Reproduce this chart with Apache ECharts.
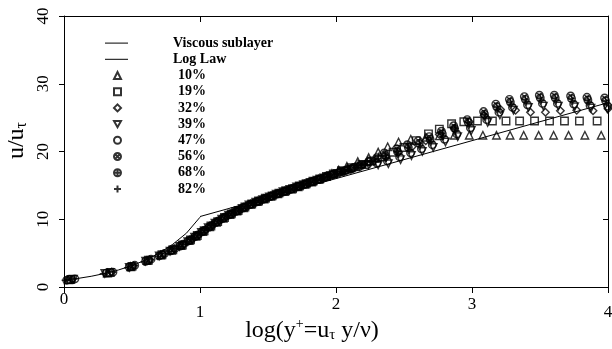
<!DOCTYPE html>
<html>
<head>
<meta charset="utf-8">
<script src="https://cdn.jsdelivr.net/npm/echarts@6/dist/echarts.min.js"></script>
<style>
  html, body { margin: 0; padding: 0; background: #fff; }
  #chart { width: 612px; height: 349px; }
</style>
</head>
<body>
<div id="chart"></div>
<script>
// Mean velocity profiles in wall units: u/u_tau against log10(y+).

// Reference laws
const viscousSublayer = [[0, 1.0], [0.1, 1.26], [0.2, 1.58], [0.3, 2.0], [0.4, 2.51], [0.5, 3.16],
  [0.6, 3.98], [0.7, 5.01], [0.8, 6.31], [0.9, 7.94], [1.0, 10.3]];
const logLaw = [[1.0, 10.4], [4.0, 27.2]];

// Measured profiles, [log10(y+), u/u_tau]
const p10 = [[0.03,1.05],[0.32,2.05],[0.49,3.0],[0.61,3.9],[0.71,4.7],[0.79,5.4],[0.86,6.1],[0.92,6.85],[0.97,7.5],
  [1.02,8.2],[1.07,8.9],[1.12,9.55],[1.17,10.15],[1.22,10.7],[1.27,11.2],[1.32,11.7],[1.37,12.2],[1.42,12.6],
  [1.47,13.0],[1.52,13.4],[1.57,13.75],[1.62,14.1],[1.67,14.45],[1.72,14.8],[1.77,15.15],[1.82,15.5],[1.87,15.9],
  [1.92,16.3],[1.97,16.75],[2.02,17.25],[2.08,17.8],[2.16,18.5],[2.24,19.1],[2.31,19.9],[2.38,20.7],[2.46,21.4],
  [2.55,21.8],[2.66,22.1],[2.76,22.3],[2.87,22.4],[2.98,22.4],[3.08,22.4],[3.18,22.4],[3.28,22.4],[3.38,22.4],
  [3.49,22.4],[3.60,22.4],[3.71,22.4],[3.83,22.4],[3.95,22.4]];
const p19 = [[0.05,1.1],[0.34,2.15],[0.5,3.05],[0.62,3.95],[0.72,4.75],[0.8,5.5],[0.87,6.2],[0.93,6.95],[0.98,7.6],
  [1.03,8.3],[1.08,9.0],[1.13,9.65],[1.18,10.25],[1.23,10.8],[1.28,11.3],[1.33,11.8],[1.38,12.25],[1.43,12.7],
  [1.48,13.1],[1.53,13.45],[1.58,13.85],[1.63,14.2],[1.68,14.5],[1.73,14.9],[1.78,15.25],[1.83,15.6],[1.88,15.95],
  [1.93,16.3],[1.98,16.7],[2.04,17.15],[2.11,17.6],[2.19,18.1],[2.26,18.6],[2.34,19.2],[2.42,19.9],[2.50,20.6],
  [2.59,21.6],[2.68,22.6],[2.76,23.3],[2.85,24.1],[2.94,24.4],[3.04,24.5],[3.15,24.5],[3.25,24.5],[3.35,24.5],
  [3.46,24.5],[3.57,24.5],[3.68,24.5],[3.79,24.5],[3.92,24.5]];
const p32 = [[0.06,1.1],[0.35,2.2],[0.51,3.1],[0.63,4.0],[0.73,4.85],[0.81,5.6],[0.88,6.3],[0.94,7.1],[0.99,7.75],
  [1.04,8.45],[1.09,9.15],[1.14,9.8],[1.19,10.4],[1.24,10.9],[1.29,11.4],[1.34,11.9],[1.39,12.35],[1.44,12.75],
  [1.49,13.15],[1.54,13.55],[1.59,13.9],[1.64,14.25],[1.69,14.6],[1.74,14.95],[1.79,15.3],[1.84,15.65],[1.89,16.0],
  [1.94,16.3],[1.99,16.65],[2.05,17.05],[2.12,17.5],[2.2,18.0],[2.28,18.6],[2.37,19.2],[2.46,19.9],[2.56,20.7],
  [2.66,21.6],[2.76,22.5],[2.87,23.4],[2.98,24.4],[3.09,25.3],[3.21,26.2],[3.32,26.1],[3.43,25.8],[3.54,25.8],
  [3.65,26.0],[3.77,26.1],[3.89,26.0],[4.0,26.3]];
const p39 = [[0.07,1.15],[0.3,2.0],[0.48,2.9],[0.6,3.8],[0.7,4.6],[0.78,5.3],[0.85,6.0],[0.91,6.7],[0.96,7.35],
  [1.01,8.05],[1.06,8.75],[1.11,9.4],[1.16,10.0],[1.21,10.6],[1.26,11.1],[1.31,11.6],[1.36,12.1],[1.41,12.5],
  [1.46,12.9],[1.51,13.3],[1.56,13.7],[1.61,14.05],[1.66,14.4],[1.71,14.75],[1.76,15.1],[1.81,15.45],[1.86,15.75],
  [1.91,16.1],[1.96,16.45],[2.01,16.75],[2.06,17.05],[2.11,17.35],[2.17,17.75],[2.24,18.1],[2.31,18.0],
  [2.385,18.2],[2.475,18.8],[2.555,19.4],[2.635,20.0],[2.715,20.6],[2.805,21.4],[2.895,22.2],[2.995,23.1],
  [3.115,24.3],[3.205,25.4],[3.305,26.1],[3.415,26.5],[3.525,26.7],[3.635,26.7],[3.755,26.6],[3.875,26.4],[3.995,26.3]];
const p47 = [[0.02,1.0],[0.31,2.05],[0.48,2.95],[0.6,3.8],[0.7,4.6],[0.785,5.35],[0.855,6.05],[0.915,6.8],[0.965,7.45],
  [1.015,8.15],[1.065,8.8],[1.115,9.5],[1.165,10.1],[1.215,10.65],[1.265,11.15],[1.315,11.65],[1.365,12.15],[1.415,12.55],
  [1.465,12.95],[1.515,13.35],[1.565,13.7],[1.615,14.05],[1.665,14.4],[1.715,14.8],[1.765,15.1],[1.815,15.5],[1.865,15.85],
  [1.915,16.15],[1.965,16.5],[2.015,16.8],[2.065,17.15],[2.115,17.45],[2.17,17.75],[2.23,18.05],[2.3,18.3],
  [2.378,18.6],[2.468,19.2],[2.548,19.8],[2.628,20.4],[2.708,21.0],[2.798,21.8],[2.888,22.6],[2.988,23.5],
  [3.108,24.7],[3.198,25.8],[3.298,26.5],[3.408,26.9],[3.518,27.1],[3.628,27.1],[3.748,27.0],[3.868,26.8],[3.998,26.7]];
const p56 = [[0.04,1.1],[0.33,2.1],[0.5,3.05],[0.62,3.95],[0.72,4.75],[0.795,5.45],[0.865,6.15],[0.925,6.9],[0.975,7.55],
  [1.025,8.25],[1.075,8.95],[1.125,9.6],[1.175,10.2],[1.225,10.75],[1.275,11.25],[1.325,11.75],[1.375,12.2],[1.425,12.65],
  [1.475,13.05],[1.525,13.4],[1.575,13.8],[1.625,14.15],[1.675,14.5],[1.725,14.85],[1.775,15.2],[1.825,15.55],[1.875,15.9],
  [1.925,16.25],[1.975,16.6],[2.025,16.95],[2.075,17.25],[2.125,17.6],[2.18,17.95],[2.24,18.5],[2.3,19.1],
  [2.355,19.8],[2.445,20.4],[2.525,21.0],[2.605,21.6],[2.685,22.2],[2.775,23.0],[2.865,23.8],[2.965,24.7],
  [3.085,25.9],[3.175,27.0],[3.275,27.7],[3.385,28.1],[3.495,28.3],[3.605,28.3],[3.725,28.2],[3.845,28.0],[3.975,27.9]];
const p68 = [[0.08,1.2],[0.36,2.2],[0.52,3.2],[0.64,4.1],[0.74,4.95],[0.815,5.65],[0.875,6.3],[0.935,7.0],[0.985,7.7],
  [1.035,8.4],[1.085,9.1],[1.135,9.75],[1.185,10.35],[1.235,10.85],[1.285,11.35],[1.335,11.85],[1.385,12.3],[1.435,12.7],
  [1.485,13.1],[1.535,13.5],[1.585,13.85],[1.635,14.2],[1.685,14.55],[1.735,14.9],[1.785,15.25],[1.835,15.6],[1.885,15.95],
  [1.935,16.3],[1.985,16.65],[2.035,17.0],[2.085,17.3],[2.135,17.65],[2.19,18.05],[2.25,18.5],[2.31,18.95],
  [2.362,19.4],[2.452,20.0],[2.532,20.6],[2.612,21.2],[2.692,21.8],[2.782,22.6],[2.872,23.4],[2.972,24.3],
  [3.092,25.5],[3.182,26.6],[3.282,27.3],[3.392,27.7],[3.502,27.9],[3.612,27.9],[3.732,27.8],[3.852,27.6],[3.982,27.5]];
const p82 = [[0.01,1.0],[0.29,1.95],[0.47,2.85],[0.59,3.7],[0.69,4.5],[0.775,5.25],[0.845,5.95],[0.905,6.65],[0.955,7.3],
  [1.005,8.0],[1.055,8.7],[1.105,9.35],[1.155,9.95],[1.205,10.55],[1.255,11.05],[1.305,11.55],[1.355,12.05],[1.405,12.5],
  [1.455,12.9],[1.505,13.3],[1.555,13.65],[1.605,14.0],[1.655,14.35],[1.705,14.7],[1.755,15.05],[1.805,15.4],[1.855,15.75],
  [1.905,16.1],[1.955,16.4],[2.005,16.75],[2.055,17.05],[2.105,17.35],[2.155,17.65],[2.21,18.0],[2.29,18.5],
  [2.37,19.0],[2.46,19.6],[2.54,20.2],[2.62,20.8],[2.70,21.4],[2.79,22.2],[2.88,23.0],[2.98,23.9],
  [3.10,25.1],[3.19,26.2],[3.29,26.9],[3.40,27.3],[3.51,27.5],[3.62,27.5],[3.74,27.4],[3.86,27.2],[3.99,27.1]];

const lawNames = ['Viscous sublayer', 'Log Law'];
const profileNames = ['10%', '19%', '32%', '39%', '47%', '56%', '68%', '82%'];
const xTicks = [0, 1, 2, 3, 4];
const yTicks = [0, 10, 20, 30, 40];

const FONT = '"Liberation Serif", "DejaVu Serif", serif';
const INK = '#000';

// Marker outlines (open symbols)
const SYM_TRI_DOWN = 'path://M-1,-0.9L1,-0.9L0,0.9Z';
const SYM_CIRCLE_X = 'path://M0,-1A1,1,0,1,1,0,1A1,1,0,1,1,0,-1ZM-0.707,-0.707L0.707,0.707M0.707,-0.707L-0.707,0.707';
const SYM_CIRCLE_PLUS = 'path://M0,-1A1,1,0,1,1,0,1A1,1,0,1,1,0,-1ZM-1,0L1,0M0,-1L0,1';
const SYM_PLUS = 'path://M-1,0L1,0M0,-1L0,1';
const LINE_ICON = 'path://M0,0H23V1H0Z';

function profile(name, data, symbol) {
  return {
    name: name,
    type: 'scatter',
    data: data,
    symbol: symbol,
    symbolSize: 7.5,
    itemStyle: { color: 'rgba(255,255,255,0)', borderColor: INK, borderWidth: 1.4 },
    emphasis: { disabled: true },
    z: 3
  };
}

function lawLine(name, data) {
  return {
    name: name,
    type: 'line',
    data: data,
    symbol: 'none',
    lineStyle: { color: INK, width: 1 },
    itemStyle: { color: INK },
    emphasis: { disabled: true },
    z: 2
  };
}

const legendText = {
  fontFamily: FONT, fontSize: 14, fontWeight: 'bold', color: INK, lineHeight: 16.2
};

const chart = echarts.init(document.getElementById('chart'), null, { renderer: 'canvas' });

const tickLevel = { 0: 'a', 1: 'c', 2: 'b', 3: 'b', 4: 'c' };

chart.setOption({
  animation: false,
  backgroundColor: '#fff',
  grid: { left: 64, right: 4, top: 16, bottom: 62, containLabel: false, outerBoundsMode: 'none' },
  legend: [
    {
      data: lawNames.map(n => ({ name: n, icon: LINE_ICON })),
      orient: 'vertical', left: 105, top: 35, padding: 0, itemGap: 0,
      itemWidth: 23, itemHeight: 7, selectedMode: false,
      textStyle: Object.assign({ padding: [0, 0, 0, 40] }, legendText)
    },
    {
      data: profileNames,
      orient: 'vertical', left: 113, top: 67.4, padding: 0, itemGap: 0,
      itemWidth: 7, itemHeight: 7, selectedMode: false,
      textStyle: Object.assign({ padding: [0, 0, 0, 52] }, legendText)
    }
  ],
  xAxis: [
    {
      type: 'value', position: 'bottom', min: xTicks[0], max: xTicks[xTicks.length - 1], interval: 1,
      axisLine: { show: true, onZero: false, lineStyle: { color: INK, width: 1 } },
      axisTick: { show: true, inside: false, length: 6, lineStyle: { color: INK } },
      splitLine: { show: false },
      axisLabel: {
        margin: 4,
        formatter: v => '{' + tickLevel[v] + '|' + v + '}',
        rich: {
          a: { fontFamily: FONT, fontSize: 17, color: INK, padding: [0, 0, 0, 0] },
          b: { fontFamily: FONT, fontSize: 17, color: INK, padding: [5, 0, 0, 0] },
          c: { fontFamily: FONT, fontSize: 17, color: INK, padding: [13, 0, 0, 0] }
        }
      },
      name: '{n|log(y}{sup|+}{n|=u}{sub|τ}{n| y/ν)}',
      nameLocation: 'middle',
      nameGap: 30,
      nameMoveOverlap: false,
      nameTextStyle: {
        padding: [0, 48, 0, 0],
        rich: {
          n: { fontFamily: FONT, fontSize: 24, color: INK },
          sup: { fontFamily: FONT, fontSize: 14, color: INK, padding: [0, 0, 13, 0] },
          sub: { fontFamily: FONT, fontSize: 15, color: INK, padding: [10, 0, 0, 0] }
        }
      }
    },
    {
      type: 'value', position: 'top', min: xTicks[0], max: xTicks[xTicks.length - 1], interval: 1,
      axisLine: { show: true, onZero: false, lineStyle: { color: INK, width: 1 } },
      axisTick: { show: true, inside: true, length: 6, lineStyle: { color: INK } },
      axisLabel: { show: false },
      splitLine: { show: false }
    }
  ],
  yAxis: [
    {
      type: 'value', position: 'left', min: yTicks[0], max: yTicks[yTicks.length - 1], interval: 10,
      axisLine: { show: true, onZero: false, lineStyle: { color: INK, width: 1 } },
      axisTick: { show: true, inside: false, length: 5, lineStyle: { color: INK } },
      splitLine: { show: false },
      axisLabel: { rotate: 90, margin: 12, fontFamily: FONT, fontSize: 17, color: INK },
      name: '{n|u/u}{sub|τ}',
      nameLocation: 'middle',
      nameRotate: 90,
      nameGap: 34,
      nameMoveOverlap: false,
      nameTextStyle: {
        padding: [0, 0, 0, 22],
        rich: {
          n: { fontFamily: FONT, fontSize: 24, color: INK },
          sub: { fontFamily: FONT, fontSize: 16, color: INK, padding: [10, 0, 0, 0] }
        }
      }
    },
    {
      type: 'value', position: 'right', min: yTicks[0], max: yTicks[yTicks.length - 1], interval: 10,
      axisLine: { show: true, onZero: false, lineStyle: { color: INK, width: 1 } },
      axisTick: { show: true, inside: true, length: 5, lineStyle: { color: INK } },
      axisLabel: { show: false },
      splitLine: { show: false }
    }
  ],
  series: [
    lawLine(lawNames[0], viscousSublayer),
    lawLine(lawNames[1], logLaw),
    profile(profileNames[0], p10, 'triangle'),
    profile(profileNames[1], p19, 'rect'),
    profile(profileNames[2], p32, 'diamond'),
    profile(profileNames[3], p39, SYM_TRI_DOWN),
    profile(profileNames[4], p47, 'circle'),
    profile(profileNames[5], p56, SYM_CIRCLE_X),
    profile(profileNames[6], p68, SYM_CIRCLE_PLUS),
    profile(profileNames[7], p82, SYM_PLUS)
  ]
});
</script>
</body>
</html>
